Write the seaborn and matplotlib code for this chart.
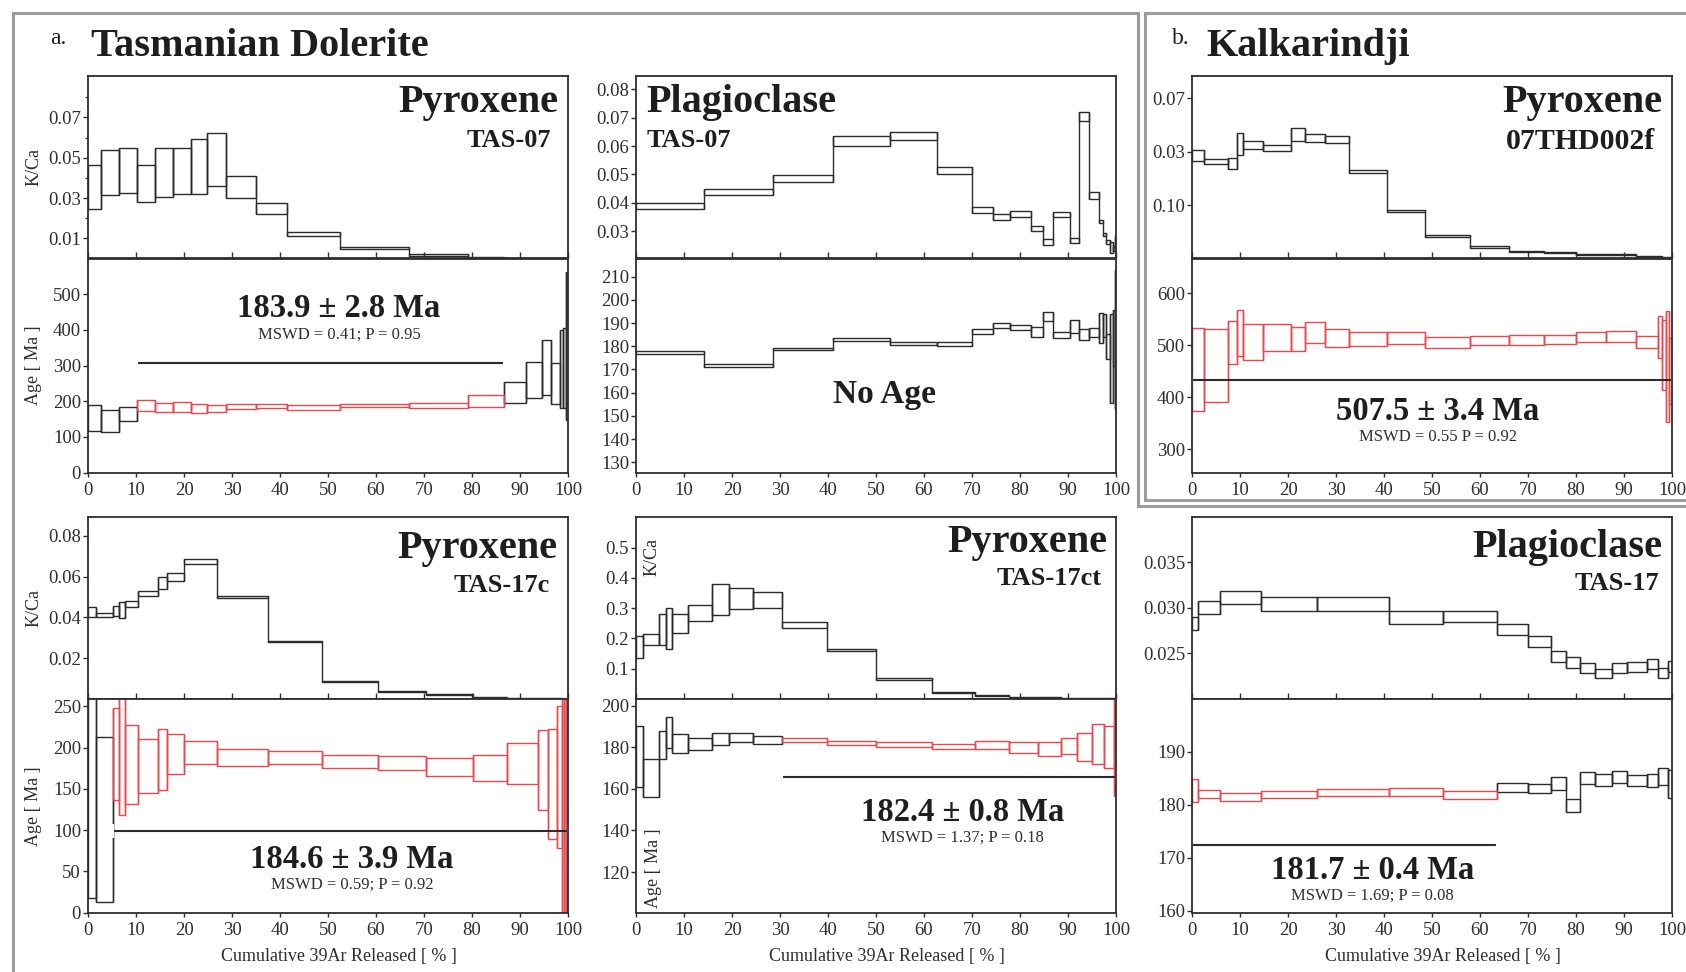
import numpy as np
import matplotlib
matplotlib.use("Agg")
import matplotlib.pyplot as plt
from matplotlib.lines import Line2D
from matplotlib.ticker import FixedLocator, FixedFormatter
import seaborn as sns

# ---------------- step-heating data ----------------
# each sample: cumulative 39Ar step edges (%), K/Ca envelope, age envelope (Ma)

# Tasmanian Dolerite, pyroxene TAS-07
px07_edges = [0, 2.7, 6.4, 10.2, 14.0, 17.7, 21.4, 24.7, 28.8, 35.1, 41.5, 52.5, 66.8, 79.2,
              86.6, 91.3, 94.6, 96.5, 98.3, 98.9, 99.5, 100]
px07_kc_lo = [0.0245, 0.0317, 0.0325, 0.0280, 0.0305, 0.0320, 0.0320, 0.0360, 0.0300, 0.0222,
              0.0111, 0.0048, 0.0010, 0.0003, 0.0002, 0.0001, 0.0001, 0.0001, 0.0001, 0.0001, 0.0001]
px07_kc_hi = [0.0465, 0.0540, 0.0550, 0.0466, 0.0546, 0.0550, 0.0595, 0.0620, 0.0408, 0.0277,
              0.0133, 0.0056, 0.0020, 0.0007, 0.0004, 0.0003, 0.0003, 0.0002, 0.0002, 0.0002, 0.0002]
px07_age_lo = [116, 113, 145, 172, 169, 171, 167, 169, 177, 181, 176, 183, 180, 185, 196, 210,
               218, 191, 182, 180, 147]
px07_age_hi = [188, 174, 183, 204, 196, 197, 193, 189, 191, 193, 188, 191, 194, 218, 253, 311,
               372, 306, 400, 405, 562]
px07_plateau_steps = (3, 13)

# Tasmanian Dolerite, plagioclase TAS-07
pl07_edges = [0, 14.2, 28.5, 41.0, 53.0, 62.8, 70.0, 74.3, 78.0, 82.3, 84.7, 86.8, 90.5, 92.2,
              94.3, 96.5, 97.2, 98.0, 98.7, 99.3, 99.8, 100]
pl07_kc_lo = [0.0380, 0.0429, 0.0474, 0.0600, 0.0621, 0.0500, 0.0365, 0.0341, 0.0350, 0.0300,
              0.0253, 0.0349, 0.0259, 0.0687, 0.0415, 0.0329, 0.0282, 0.0256, 0.0223, 0.0229, 0.0235]
pl07_kc_hi = [0.0400, 0.0449, 0.0498, 0.0635, 0.0651, 0.0526, 0.0386, 0.0361, 0.0370, 0.0318,
              0.0271, 0.0368, 0.0276, 0.0720, 0.0439, 0.0341, 0.0294, 0.0270, 0.0261, 0.0247, 0.0285]
pl07_age_lo = [176.8, 171.2, 178.2, 182.4, 180.6, 180.2, 185.3, 187.7, 187.0, 184.1, 190.9, 183.4,
               185.8, 182.8, 184.0, 181.2, 184.0, 174.7, 155.6, 171.7, 153.0]
pl07_age_hi = [177.9, 172.2, 179.4, 183.5, 182.0, 181.7, 187.6, 190.1, 189.3, 188.4, 194.9, 186.0,
               191.3, 187.3, 188.0, 194.2, 193.9, 185.1, 193.7, 195.5, 213.0]
pl07_plateau_steps = None

# Kalkarindji, pyroxene 07THD002f
kk_edges = [0, 2.5, 7.5, 9.3, 10.7, 14.7, 20.7, 23.5, 27.7, 32.7, 40.7, 48.5, 57.9, 66.1, 73.4,
            79.9, 86.3, 92.4, 97.0, 98.0, 98.8, 99.4, 100]
kk_kc_lo = [0.01825, 0.0177, 0.01675, 0.0194, 0.0206, 0.0202, 0.0220, 0.02175, 0.0216, 0.0161,
            0.0087, 0.0040, 0.0020, 0.0012, 0.0010, 0.0007, 0.0006, 0.0003, 0.0002, 0.0002,
            0.0001, 0.0001]
kk_kc_hi = [0.0203, 0.01856, 0.01875, 0.0236, 0.0220, 0.02125, 0.0244, 0.02325, 0.0229, 0.0166,
            0.0091, 0.0044, 0.0023, 0.0014, 0.0012, 0.0009, 0.0008, 0.0005, 0.0004, 0.0003,
            0.0003, 0.0003]
kk_kc_ticks = [0.01, 0.02, 0.03]
kk_kc_ticklabels = ["0.10", "0.03", "0.07"]
kk_age_lo = [373, 391, 464, 479, 472, 488, 489, 505, 497, 498, 502, 495, 500, 501, 502, 506, 507,
             495, 476, 414, 353, 386]
kk_age_hi = [534, 532, 547, 568, 541, 540, 536, 545, 531, 525, 525, 516, 517, 520, 520, 525, 527,
             518, 557, 549, 566, 514]
kk_plateau_steps = (0, 21)

# Tasmanian Dolerite, pyroxene TAS-17c
px17c_edges = [0, 1.7, 5.2, 6.5, 7.7, 10.4, 14.5, 16.4, 20.1, 26.8, 37.6, 48.7, 60.5, 70.5, 80.3,
               87.3, 93.7, 95.8, 97.8, 98.7, 99.2, 99.6, 100]
px17c_kc_lo = [0.0404, 0.0400, 0.0409, 0.0397, 0.0450, 0.0503, 0.0540, 0.0581, 0.0664, 0.0494,
               0.0280, 0.0082, 0.0034, 0.0021, 0.0010, 0.0004, 0.0002, 0.0002, 0.0001, 0.0001,
               0.0001, 0.0001]
px17c_kc_hi = [0.0453, 0.0420, 0.0458, 0.0475, 0.0483, 0.0532, 0.0600, 0.0618, 0.0688, 0.0504,
               0.0286, 0.0087, 0.0037, 0.0024, 0.0012, 0.0006, 0.0004, 0.0003, 0.0003, 0.0002,
               0.0002, 0.0002]
px17c_age_lo = [17, 13, 136, 118, 132, 145, 149, 168, 180, 178, 180, 175, 173, 166, 160, 156, 124,
                89, 78, 0, 0, 0]
px17c_age_hi = [300, 213, 248, 300, 228, 210, 223, 216, 208, 198, 196, 191, 190, 187, 191, 206,
                222, 223, 251, 300, 300, 300]
px17c_plateau_steps = (2, 21)

# Tasmanian Dolerite, pyroxene TAS-17ct
px17ct_edges = [0, 1.5, 4.7, 6.3, 7.5, 10.8, 15.8, 19.3, 24.3, 30.5, 39.8, 50.1, 61.7, 70.6,
                77.8, 83.7, 88.5, 91.8, 95.0, 97.4, 99.5, 100]
px17ct_kc_lo = [0.135, 0.177, 0.179, 0.165, 0.218, 0.258, 0.277, 0.298, 0.300, 0.234, 0.157,
                0.064, 0.019, 0.010, 0.006, 0.004, 0.003, 0.002, 0.001, 0.001, 0.001]
px17ct_kc_hi = [0.207, 0.215, 0.281, 0.300, 0.281, 0.310, 0.381, 0.366, 0.354, 0.253, 0.166,
                0.068, 0.022, 0.013, 0.008, 0.006, 0.004, 0.003, 0.002, 0.002, 0.002]
px17ct_age_lo = [161.0, 156.0, 174.6, 179.7, 177.3, 178.9, 181.0, 182.4, 181.8, 182.4, 181.3,
                 180.3, 179.0, 179.4, 177.4, 175.8, 176.6, 173.6, 172.0, 170.0, 156.8]
px17ct_age_hi = [190.4, 174.4, 187.7, 194.6, 186.4, 184.5, 186.9, 186.7, 185.4, 184.3, 183.0,
                 182.6, 181.8, 182.9, 182.6, 182.7, 184.3, 186.9, 191.2, 190.4, 210.0]
px17ct_plateau_steps = (9, 20)

# Tasmanian Dolerite, plagioclase TAS-17
pl17_edges = [0, 1.2, 5.8, 14.4, 26.0, 41.0, 52.2, 63.6, 69.9, 74.7, 78.0, 80.8, 83.9, 87.4, 90.6,
              94.7, 97.0, 99.1, 100]
pl17_kc_lo = [0.02755, 0.0293, 0.0304, 0.0297, 0.0297, 0.0282, 0.0284, 0.0270, 0.0257, 0.0241,
              0.0234, 0.0229, 0.0223, 0.0228, 0.0230, 0.0233, 0.0223, 0.0230]
pl17_kc_hi = [0.0290, 0.0307, 0.0319, 0.0312, 0.0312, 0.0296, 0.0297, 0.0282, 0.0269, 0.0253,
              0.0246, 0.0240, 0.0233, 0.0239, 0.0241, 0.0244, 0.0234, 0.0242]
pl17_age_lo = [180.6, 181.3, 180.8, 181.3, 181.6, 181.6, 181.2, 182.5, 182.3, 182.8, 178.6, 183.9,
               183.6, 184.1, 183.5, 183.3, 183.8, 181.3]
pl17_age_hi = [184.9, 182.8, 182.3, 182.7, 183.0, 183.2, 182.7, 184.1, 184.0, 185.2, 181.1, 186.2,
               185.9, 186.4, 185.6, 185.8, 186.9, 186.6]
pl17_plateau_steps = (0, 6)

# plateau results: (label, mswd line, bracket start %, bracket end %, bracket level)
px07_result = ("183.9 ± 2.8 Ma", "MSWD = 0.41; P = 0.95", 10.2, 86.6, 308)
kk_result = ("507.5 ± 3.4 Ma", "MSWD = 0.55 P = 0.92", 0.0, 100.0, 433)
px17c_result = ("184.6 ± 3.9 Ma", "MSWD = 0.59; P = 0.92", 5.2, 100.0, 99)
px17ct_result = ("182.4 ± 0.8 Ma", "MSWD = 1.37; P = 0.18", 30.5, 100.0, 165.8)
pl17_result = ("181.7 ± 0.4 Ma", "MSWD = 1.69; P = 0.08", 0.0, 63.6, 172.4)

x_ticks = [0, 10, 20, 30, 40, 50, 60, 70, 80, 90, 100]

# ---------------- styling ----------------
sns.set_theme(style="ticks")
plt.rcParams["font.family"] = ["Liberation Serif", "DejaVu Serif"]
plt.rcParams["axes.edgecolor"] = "#2e2e2e"
plt.rcParams["axes.linewidth"] = 1.3
plt.rcParams["xtick.color"] = "#2e2e2e"
plt.rcParams["ytick.color"] = "#2e2e2e"

INK = "#2b2b2b"
RED = "#e8474c"
FRAME = "#9c9c9c"
TICK_FS = 13.5
LABEL_FS = 13
LABEL_X = -0.095

W, H = 1686, 972
fig = plt.figure(figsize=(W / 100, H / 100), dpi=100)
fig.patch.set_facecolor("white")


def fx(px):
    return px / W


def fy(py):
    return 1 - py / H


col_left = [88, 636, 1192]
col_width = 480
row_y = [(76, 258.5, 472.5), (516.7, 699, 912.5)]


def draw_steps(ax, edges, lo, hi, colors, lw=1.0):
    """Step spectrum: one open box per heating step, joined by vertical risers."""
    edges = np.asarray(edges, dtype=float)
    left = edges[:-1]
    width = np.diff(edges)
    lo = np.asarray(lo, dtype=float)
    hi = np.asarray(hi, dtype=float)
    colors = np.asarray(colors)
    # risers between consecutive steps
    xb = edges[1:-1]
    rlo = np.minimum(lo[:-1], lo[1:])
    rhi = np.maximum(hi[:-1], hi[1:])
    both_red = (colors[:-1] == RED) & (colors[1:] == RED)
    for c, m in ((INK, ~both_red), (RED, both_red)):
        if m.any():
            ax.vlines(xb[m], rlo[m], rhi[m], colors=c, linewidth=lw, zorder=2)
    for c in (INK, RED):
        m = colors == c
        if m.any():
            ax.bar(left[m], (hi - lo)[m], width=width[m], bottom=lo[m], align="edge",
                   fill=False, edgecolor=c, linewidth=lw, zorder=3 if c == RED else 2)


def step_colors(n, plateau):
    cols = [INK] * n
    if plateau is not None:
        for i in range(plateau[0], plateau[1] + 1):
            cols[i] = RED
    return cols


def make_panel(col, row, edges, kc_lo, kc_hi, age_lo, age_hi, plateau,
               kc_ticks, kc_labels, kc_lim, age_ticks, age_lim, kc_minor=None):
    top, mid, bot = row_y[row]
    l = fx(col_left[col])
    w = col_width / W
    ax_kc = fig.add_axes([l, fy(mid), w, (mid - top) / H])
    ax_age = fig.add_axes([l, fy(bot), w, (bot - mid) / H])

    n = len(edges) - 1
    draw_steps(ax_kc, edges, kc_lo, kc_hi, [INK] * n)
    draw_steps(ax_age, edges, age_lo, age_hi, step_colors(n, plateau))

    for ax in (ax_kc, ax_age):
        ax.set_xlim(0, 100)
        ax.xaxis.set_major_locator(FixedLocator(x_ticks))
        for s in ax.spines.values():
            s.set_visible(True)
            s.set_color("#2e2e2e")
            s.set_linewidth(1.3)
            s.set_zorder(5)
        ax.tick_params(axis="y", direction="out", length=3.5, width=1, labelsize=TICK_FS,
                       labelcolor="#2e2e2e", pad=1.5)
        ax.set_facecolor("white")

    ax_kc.set_ylim(*kc_lim)
    ax_kc.yaxis.set_major_locator(FixedLocator(kc_ticks))
    ax_kc.yaxis.set_major_formatter(FixedFormatter(kc_labels))
    if kc_minor is not None:
        ax_kc.yaxis.set_minor_locator(FixedLocator(kc_minor))
        ax_kc.tick_params(axis="y", which="minor", direction="out", length=2.5, width=0.9)
    ax_kc.tick_params(axis="x", direction="in", length=4, width=1, labelbottom=False)

    ax_age.set_ylim(*age_lim)
    ax_age.yaxis.set_major_locator(FixedLocator(age_ticks))
    ax_age.yaxis.set_major_formatter(FixedFormatter([f"{t:g}" for t in age_ticks]))
    ax_age.tick_params(axis="x", direction="out", length=3, width=1, labelsize=TICK_FS,
                       labelcolor="#2e2e2e", pad=4)
    ax_kc.set_xlabel("")
    ax_kc.set_ylabel("")
    ax_age.set_ylabel("")
    if row == 1:
        ax_age.set_xlabel("Cumulative 39Ar Released [ % ]", fontsize=LABEL_FS, color="#2e2e2e")
        ax_age.xaxis.set_label_coords(0.522, -0.165)
    else:
        ax_age.set_xlabel("")
    return ax_kc, ax_age


def plateau_bracket(ax, result):
    x0, x1, level = result[2], result[3], result[4]
    sns.lineplot(x=[x0, x1], y=[level, level], color=INK, linewidth=1.5, marker="|",
                 markersize=10, markeredgewidth=1.5, estimator=None, ax=ax, zorder=4)


def result_text(ax, result, x, y_age, y_mswd):
    ax.text(x, y_age, result[0], ha="center", va="center", fontsize=23.5, fontweight="bold",
            color="#1e1e1e")
    ax.text(x, y_mswd, result[1], ha="center", va="center", fontsize=12, color="#2e2e2e")


def titles(ax, mineral, sample, x, y_min, y_smp, ha="right", smp_x=None, smp_fs=19):
    ax.text(x, y_min, mineral, transform=ax.transAxes, ha=ha, va="baseline",
            fontsize=29, fontweight="bold", color="#1e1e1e")
    ax.text(smp_x if smp_x is not None else x, y_smp, sample, transform=ax.transAxes, ha=ha,
            va="baseline", fontsize=smp_fs, fontweight="bold", color="#1e1e1e")


# ---- panel a: TAS-07 pyroxene ----
kc, ag = make_panel(0, 0, px07_edges, px07_kc_lo, px07_kc_hi, px07_age_lo, px07_age_hi,
                    px07_plateau_steps, [0.01, 0.03, 0.05, 0.07],
                    ["0.01", "0.03", "0.05", "0.07"], (0, 0.0905),
                    [0, 100, 200, 300, 400, 500], (0, 600), kc_minor=[0.02, 0.04, 0.06, 0.08])
kc.set_ylabel("K/Ca", fontsize=LABEL_FS, color="#2e2e2e")
ag.set_ylabel("Age [ Ma ]", fontsize=LABEL_FS, color="#2e2e2e")
kc.yaxis.set_label_coords(LABEL_X, 0.5)
ag.yaxis.set_label_coords(LABEL_X, 0.5)
titles(kc, "Pyroxene", "TAS-07", 0.980, 0.804, 0.61, smp_x=0.965)
plateau_bracket(ag, px07_result)
result_text(ag, px07_result, 52.3, 459, 387)

# ---- panel a: TAS-07 plagioclase ----
kc, ag = make_panel(1, 0, pl07_edges, pl07_kc_lo, pl07_kc_hi, pl07_age_lo, pl07_age_hi,
                    pl07_plateau_steps, [0.03, 0.04, 0.05, 0.06, 0.07, 0.08],
                    ["0.03", "0.04", "0.05", "0.06", "0.07", "0.08"], (0.0204, 0.0847),
                    [130, 140, 150, 160, 170, 180, 190, 200, 210], (125.6, 217.8))
titles(kc, "Plagioclase", "TAS-07", 0.021, 0.804, 0.61, ha="left")
ag.text(51.7, 159.2, "No Age", ha="center", va="center", fontsize=24, fontweight="bold",
        color="#1e1e1e")

# ---- panel b: Kalkarindji pyroxene ----
kc, ag = make_panel(2, 0, kk_edges, kk_kc_lo, kk_kc_hi, kk_age_lo, kk_age_hi, kk_plateau_steps,
                    kk_kc_ticks, kk_kc_ticklabels, (0, 0.0342),
                    [300, 400, 500, 600], (255, 667))
titles(kc, "Pyroxene", "07THD002f", 0.979, 0.804, 0.60, smp_x=0.965, smp_fs=21.5)
plateau_bracket(ag, kk_result)
result_text(ag, kk_result, 51.2, 373, 324)

# ---- panel a: TAS-17c pyroxene ----
kc, ag = make_panel(0, 1, px17c_edges, px17c_kc_lo, px17c_kc_hi, px17c_age_lo, px17c_age_hi,
                    px17c_plateau_steps, [0.02, 0.04, 0.06, 0.08],
                    ["0.02", "0.04", "0.06", "0.08"], (0, 0.0894),
                    [0, 50, 100, 150, 200, 250], (0, 259))
kc.set_ylabel("K/Ca", fontsize=LABEL_FS, color="#2e2e2e")
ag.set_ylabel("Age [ Ma ]", fontsize=LABEL_FS, color="#2e2e2e")
kc.yaxis.set_label_coords(LABEL_X, 0.5)
ag.yaxis.set_label_coords(LABEL_X, 0.5)
titles(kc, "Pyroxene", "TAS-17c", 0.977, 0.772, 0.589, smp_x=0.962)
plateau_bracket(ag, px17c_result)
result_text(ag, px17c_result, 55.0, 64.4, 34.4)

# ---- panel a: TAS-17ct pyroxene ----
kc, ag = make_panel(1, 1, px17ct_edges, px17ct_kc_lo, px17ct_kc_hi, px17ct_age_lo, px17ct_age_hi,
                    px17ct_plateau_steps, [0.1, 0.2, 0.3, 0.4, 0.5],
                    ["0.1", "0.2", "0.3", "0.4", "0.5"], (0, 0.602),
                    [120, 140, 160, 180, 200], (100.5, 203.3))
kc.text(3.3, 0.47, "K/Ca", rotation=90, ha="center", va="center", fontsize=LABEL_FS,
        color="#2e2e2e")
ag.text(3.6, 122, "Age [ Ma ]", rotation=90, ha="center", va="center", fontsize=LABEL_FS,
        color="#2e2e2e")
titles(kc, "Pyroxene", "TAS-17ct", 0.981, 0.808, 0.625, smp_x=0.970)
plateau_bracket(ag, px17ct_result)
result_text(ag, px17ct_result, 68.1, 148.5, 136.5)

# ---- panel a: TAS-17 plagioclase ----
kc, ag = make_panel(2, 1, pl17_edges, pl17_kc_lo, pl17_kc_hi, pl17_age_lo, pl17_age_hi,
                    pl17_plateau_steps, [0.025, 0.030, 0.035],
                    ["0.025", "0.030", "0.035"], (0.0200, 0.0400),
                    [160, 170, 180, 190], (159.7, 200))
titles(kc, "Plagioclase", "TAS-17", 0.979, 0.781, 0.598, smp_x=0.973)
plateau_bracket(ag, pl17_result)
result_text(ag, pl17_result, 37.6, 167.7, 162.8)

# ---------------- group frames and headings ----------------
frame_a = [(13, 990), (13, 13), (1138, 13), (1138, 506), (1700, 506)]
frame_b = [(1700, 13), (1145, 13), (1145, 500), (1700, 500)]
for pts in (frame_a, frame_b):
    xs = [fx(p[0]) for p in pts]
    ys = [fy(p[1]) for p in pts]
    fig.add_artist(Line2D(xs, ys, transform=fig.transFigure, color=FRAME, linewidth=2.2,
                          solid_joinstyle="miter"))

fig.text(fx(50), fy(44), "a.", fontsize=17, color="#1e1e1e", ha="left", va="baseline")
fig.text(fx(91), fy(56), "Tasmanian Dolerite", fontsize=29, fontweight="bold",
         color="#1e1e1e", ha="left", va="baseline")
fig.text(fx(1172), fy(44), "b.", fontsize=17, color="#1e1e1e", ha="left", va="baseline")
fig.text(fx(1206), fy(56), "Kalkarindji", fontsize=29, fontweight="bold",
         color="#1e1e1e", ha="left", va="baseline")

fig.savefig("out.png", dpi=100, facecolor="white")
